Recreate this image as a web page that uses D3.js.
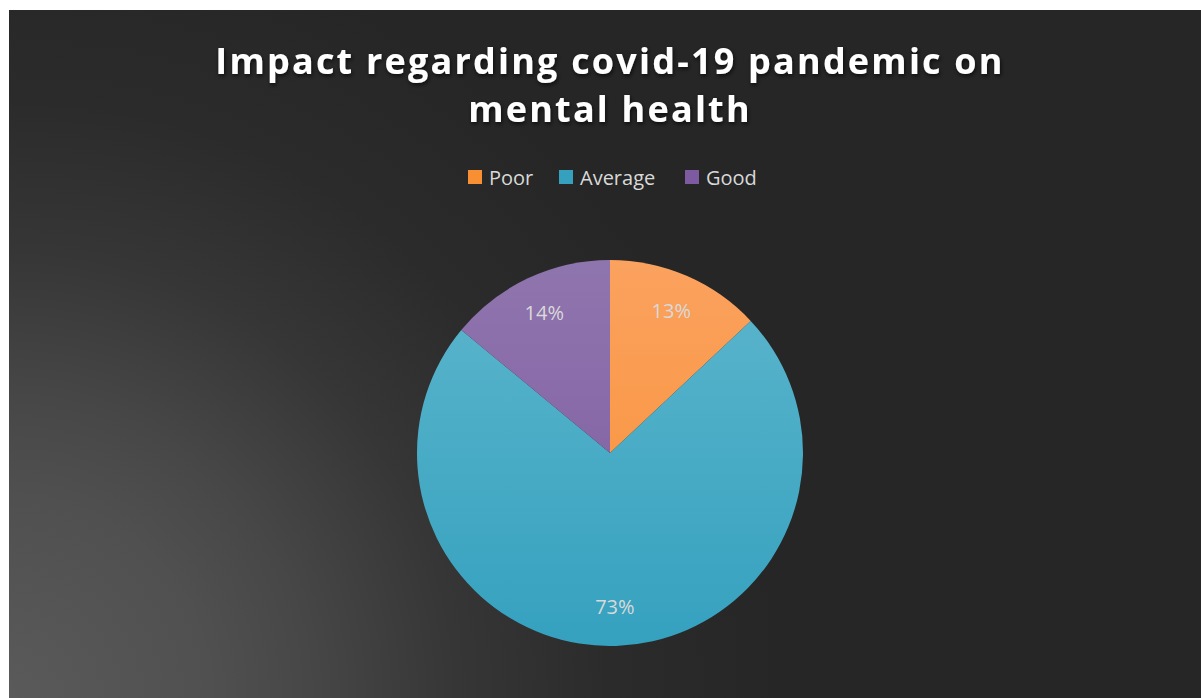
<!DOCTYPE html>
<html>
<head>
<meta charset="utf-8">
<script src="https://cdn.jsdelivr.net/npm/d3@7"></script>
<style>
  html, body { margin: 0; padding: 0; background: #ffffff; }
  svg { display: block; }
</style>
</head>
<body>
<div id="chart"></div>
<script>
const categories = ['Poor', 'Average', 'Good']
const values = [13, 73, 14]
const titleLines = ['Impact regarding covid-19 pandemic on', 'mental health']

const W = 1201
const H = 698
const colors = {
  text: '#ffffff',
  legendText: '#d9d9d9',
  label: '#d9d9d9',
  slices: [
    ['#fba25f', '#f88f32'],
    ['#5db6cc', '#35a1bf'],
    ['#8f75ae', '#7e5aa0']
  ]
}

const svg = d3.select('#chart').append('svg')
  .attr('width', W)
  .attr('height', H)

const defs = svg.append('defs')

// fond sombre avec halo en bas a gauche
const bg = defs.append('radialGradient')
  .attr('id', 'bg')
  .attr('gradientUnits', 'userSpaceOnUse')
  .attr('cx', 9).attr('cy', 698).attr('r', 800)
bg.selectAll('stop')
  .data([[0, '#5a5a5a'], [0.25, '#505050'], [0.375, '#474747'], [0.56, '#363636'], [0.75, '#2b2b2b'], [0.97, '#262626'], [1, '#262626']])
  .enter().append('stop')
  .attr('offset', d => d[0])
  .attr('stop-color', d => d[1])

const shadow = defs.append('filter').attr('id', 'shadow')
  .attr('x', '-10%').attr('y', '-30%').attr('width', '120%').attr('height', '160%')
shadow.append('feDropShadow')
  .attr('dx', 1).attr('dy', 2).attr('stdDeviation', 2)
  .attr('flood-color', '#000').attr('flood-opacity', 0.7)

svg.append('rect').attr('x', 0).attr('y', 0).attr('width', W).attr('height', H).attr('fill', '#ffffff')
svg.append('rect').attr('x', 9).attr('y', 10).attr('width', W - 9).attr('height', H - 10).attr('fill', 'url(#bg)')

// Titre
const title = svg.append('text')
  .attr('text-anchor', 'middle')
  .style('font-family', '"Open Sans", "DejaVu Sans", sans-serif')
  .style('font-size', '36px')
  .style('font-weight', '700')
  .style('letter-spacing', '2.2px')
  .style('fill', colors.text)
  .attr('filter', 'url(#shadow)')
title.selectAll('tspan')
  .data(titleLines)
  .enter().append('tspan')
  .attr('x', 610)
  .attr('y', (d, i) => 74 + i * 48)
  .text(d => d)

// Legende
const legendX = [468, 559, 685]
const legend = svg.append('g').attr('class', 'legend')
const items = legend.selectAll('g')
  .data(categories)
  .enter().append('g')
  .attr('transform', (d, i) => `translate(${legendX[i]}, 170)`)
items.append('rect')
  .attr('width', 14).attr('height', 14)
  .attr('fill', (d, i) => colors.slices[i][1])
items.append('text')
  .attr('x', 21).attr('y', 15)
  .text(d => d)
  .style('font-family', '"Open Sans", "DejaVu Sans", sans-serif')
  .style('font-size', '20px')
  .style('fill', colors.legendText)

// Camembert
const cx = 610
const cy = 453
const radius = 193

colors.slices.forEach((c, i) => {
  const g = defs.append('linearGradient')
    .attr('id', `slice${i}`)
    .attr('gradientUnits', 'userSpaceOnUse')
    .attr('x1', 0).attr('y1', -radius).attr('x2', 0).attr('y2', radius)
  g.append('stop').attr('offset', 0).attr('stop-color', c[0])
  g.append('stop').attr('offset', 1).attr('stop-color', c[1])
})

const pie = d3.pie().sort(null).value(d => d)
const arc = d3.arc().innerRadius(0).outerRadius(radius)
const labelArc = d3.arc().innerRadius(radius * 0.8).outerRadius(radius * 0.8)
const total = d3.sum(values)

const pieG = svg.append('g').attr('transform', `translate(${cx},${cy})`)
const arcs = pie(values)

pieG.selectAll('path')
  .data(arcs)
  .enter().append('path')
  .attr('d', arc)
  .attr('fill', (d, i) => `url(#slice${i})`)

pieG.selectAll('text')
  .data(arcs)
  .enter().append('text')
  .attr('transform', d => {
    const [x, y] = labelArc.centroid(d)
    return `translate(${x},${y})`
  })
  .attr('text-anchor', 'middle')
  .attr('dy', '0.35em')
  .text(d => `${Math.round(d.value / total * 100)}%`)
  .style('font-family', '"Open Sans", "DejaVu Sans", sans-serif')
  .style('font-size', '20px')
  .style('fill', colors.label)
</script>
</body>
</html>
